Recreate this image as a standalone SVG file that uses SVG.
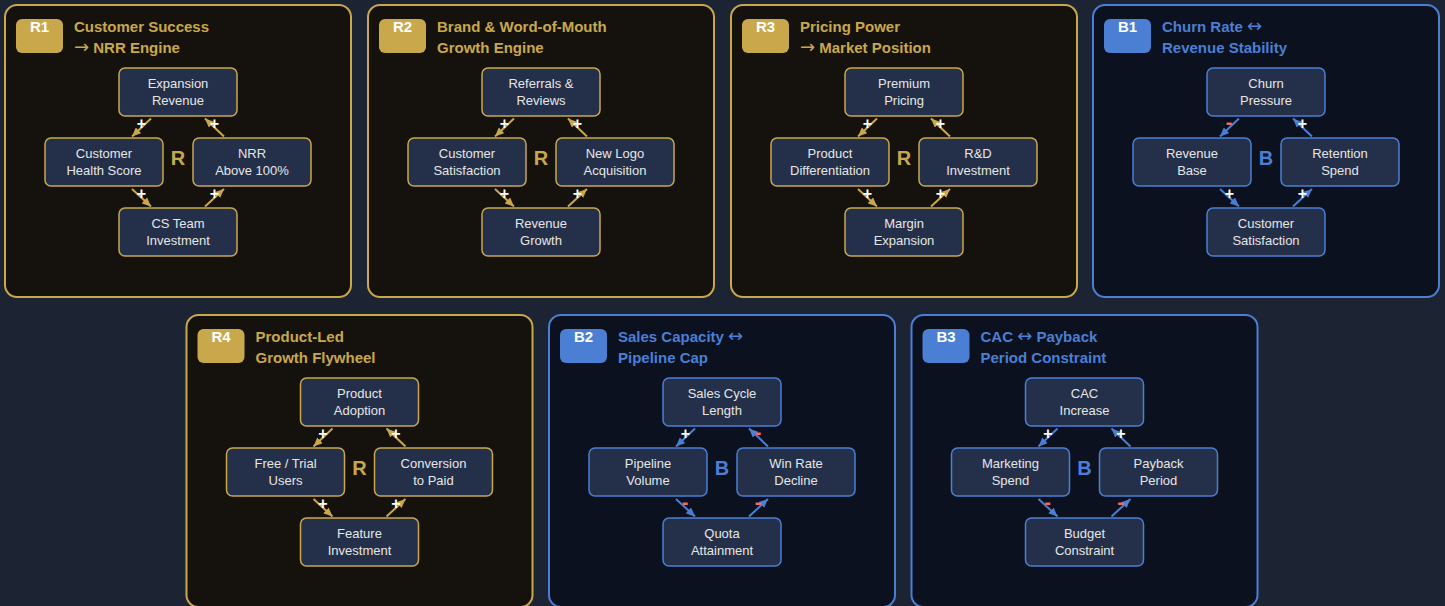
<svg xmlns="http://www.w3.org/2000/svg" width="1445" height="606" viewBox="0 0 1445 606">
<style>
text{font-family:"Liberation Sans",Arial,sans-serif}
.ar{font-family:"DejaVu Sans",sans-serif;font-weight:normal;font-size:18px}
.pr{fill:#15120d;stroke:#c9a84c;stroke-width:2}
.pb{fill:#0c1120;stroke:#4a7fd4;stroke-width:2}
.bgr{fill:#c9a84c}
.bgb{fill:#4a7fd4}
.bt{fill:#ffffff;font-size:15px;font-weight:bold;text-anchor:middle}
.tr{fill:#c9a84c;font-size:15px;font-weight:bold}
.tb{fill:#4a7fd4;font-size:15px;font-weight:bold}
.nr{fill:#243049;stroke:#c9a84c;stroke-width:1.5}
.nb{fill:#243049;stroke:#4a7fd4;stroke-width:1.5}
.nt{fill:#e6e6e6;font-size:13px;text-anchor:middle}
.lr{fill:#c9a84c;font-size:20px;font-weight:bold;text-anchor:middle}
.lb{fill:#4a7fd4;font-size:20px;font-weight:bold;text-anchor:middle}
.cr{stroke:#c9a84c;stroke-width:2;fill:none;marker-end:url(#ag)}
.cb{stroke:#4a7fd4;stroke-width:2;fill:none;marker-end:url(#ab)}
.sp{fill:#ffffff;font-size:16px;font-weight:bold;text-anchor:middle}
.sm{fill:#f06a6a;font-size:20px;font-weight:bold;text-anchor:middle}
</style>
<defs>
<marker id="ag" markerUnits="userSpaceOnUse" markerWidth="9" markerHeight="8" refX="9" refY="4" orient="auto"><path d="M0,0 L9,4 L0,8 z" fill="#c9a84c"/></marker>
<marker id="ab" markerUnits="userSpaceOnUse" markerWidth="9" markerHeight="8" refX="9" refY="4" orient="auto"><path d="M0,0 L9,4 L0,8 z" fill="#4a7fd4"/></marker>
</defs>
<rect x="0" y="0" width="1445" height="606" fill="#1c2333"/>

<!-- R1 -->
<g id="panel-r1" transform="translate(5,5)">
<rect class="pr" x="0" y="0" width="346" height="292" rx="12"/>
<rect class="bgr" x="11" y="14" width="47" height="34" rx="6"/>
<text class="bt" x="34.5" y="27">R1</text>
<text class="tr" x="69" y="27">Customer Success</text>
<text class="tr" x="69" y="48"><tspan class="ar">→</tspan> NRR Engine</text>
<text class="lr" x="173" y="160">R</text>
</g>
<g id="r1-expansion-revenue" transform="translate(119,68)"><rect class="nr" width="118" height="48" rx="6"/><text class="nt" x="59" y="20">Expansion</text><text class="nt" x="59" y="37">Revenue</text></g>
<g id="r1-customer-health" transform="translate(45,138)"><rect class="nr" width="118" height="48" rx="6"/><text class="nt" x="59" y="20">Customer</text><text class="nt" x="59" y="37">Health Score</text></g>
<g id="r1-nrr" transform="translate(193,138)"><rect class="nr" width="118" height="48" rx="6"/><text class="nt" x="59" y="20">NRR</text><text class="nt" x="59" y="37">Above 100%</text></g>
<g id="r1-cs-team" transform="translate(119,208)"><rect class="nr" width="118" height="48" rx="6"/><text class="nt" x="59" y="20">CS Team</text><text class="nt" x="59" y="37">Investment</text></g>

<!-- R2 -->
<g id="panel-r2" transform="translate(368,5)">
<rect class="pr" x="0" y="0" width="346" height="292" rx="12"/>
<rect class="bgr" x="11" y="14" width="47" height="34" rx="6"/>
<text class="bt" x="34.5" y="27">R2</text>
<text class="tr" x="69" y="27">Brand &amp; Word-of-Mouth</text>
<text class="tr" x="69" y="48">Growth Engine</text>
<text class="lr" x="173" y="160">R</text>
</g>
<g id="r2-referrals" transform="translate(482,68)"><rect class="nr" width="118" height="48" rx="6"/><text class="nt" x="59" y="20">Referrals &amp;</text><text class="nt" x="59" y="37">Reviews</text></g>
<g id="r2-customer-satisfaction" transform="translate(408,138)"><rect class="nr" width="118" height="48" rx="6"/><text class="nt" x="59" y="20">Customer</text><text class="nt" x="59" y="37">Satisfaction</text></g>
<g id="r2-new-logo" transform="translate(556,138)"><rect class="nr" width="118" height="48" rx="6"/><text class="nt" x="59" y="20">New Logo</text><text class="nt" x="59" y="37">Acquisition</text></g>
<g id="r2-revenue-growth" transform="translate(482,208)"><rect class="nr" width="118" height="48" rx="6"/><text class="nt" x="59" y="20">Revenue</text><text class="nt" x="59" y="37">Growth</text></g>

<!-- R3 -->
<g id="panel-r3" transform="translate(731,5)">
<rect class="pr" x="0" y="0" width="346" height="292" rx="12"/>
<rect class="bgr" x="11" y="14" width="47" height="34" rx="6"/>
<text class="bt" x="34.5" y="27">R3</text>
<text class="tr" x="69" y="27">Pricing Power</text>
<text class="tr" x="69" y="48"><tspan class="ar">→</tspan> Market Position</text>
<text class="lr" x="173" y="160">R</text>
</g>
<g id="r3-premium-pricing" transform="translate(845,68)"><rect class="nr" width="118" height="48" rx="6"/><text class="nt" x="59" y="20">Premium</text><text class="nt" x="59" y="37">Pricing</text></g>
<g id="r3-product-diff" transform="translate(771,138)"><rect class="nr" width="118" height="48" rx="6"/><text class="nt" x="59" y="20">Product</text><text class="nt" x="59" y="37">Differentiation</text></g>
<g id="r3-rd" transform="translate(919,138)"><rect class="nr" width="118" height="48" rx="6"/><text class="nt" x="59" y="20">R&amp;D</text><text class="nt" x="59" y="37">Investment</text></g>
<g id="r3-margin" transform="translate(845,208)"><rect class="nr" width="118" height="48" rx="6"/><text class="nt" x="59" y="20">Margin</text><text class="nt" x="59" y="37">Expansion</text></g>

<!-- B1 -->
<g id="panel-b1" transform="translate(1093,5)">
<rect class="pb" x="0" y="0" width="346" height="292" rx="12"/>
<rect class="bgb" x="11" y="14" width="47" height="34" rx="6"/>
<text class="bt" x="34.5" y="27">B1</text>
<text class="tb" x="69" y="27">Churn Rate <tspan class="ar">↔</tspan></text>
<text class="tb" x="69" y="48">Revenue Stability</text>
<text class="lb" x="173" y="160">B</text>
</g>
<g id="b1-churn" transform="translate(1207,68)"><rect class="nb" width="118" height="48" rx="6"/><text class="nt" x="59" y="20">Churn</text><text class="nt" x="59" y="37">Pressure</text></g>
<g id="b1-revenue-base" transform="translate(1133,138)"><rect class="nb" width="118" height="48" rx="6"/><text class="nt" x="59" y="20">Revenue</text><text class="nt" x="59" y="37">Base</text></g>
<g id="b1-retention" transform="translate(1281,138)"><rect class="nb" width="118" height="48" rx="6"/><text class="nt" x="59" y="20">Retention</text><text class="nt" x="59" y="37">Spend</text></g>
<g id="b1-customer-satisfaction" transform="translate(1207,208)"><rect class="nb" width="118" height="48" rx="6"/><text class="nt" x="59" y="20">Customer</text><text class="nt" x="59" y="37">Satisfaction</text></g>

<!-- R4 -->
<g id="panel-r4" transform="translate(186.5,315)">
<rect class="pr" x="0" y="0" width="346" height="292" rx="12"/>
<rect class="bgr" x="11" y="14" width="47" height="34" rx="6"/>
<text class="bt" x="34.5" y="27">R4</text>
<text class="tr" x="69" y="27">Product-Led</text>
<text class="tr" x="69" y="48">Growth Flywheel</text>
<text class="lr" x="173" y="160">R</text>
</g>
<g id="r4-product-adoption" transform="translate(300.5,378)"><rect class="nr" width="118" height="48" rx="6"/><text class="nt" x="59" y="20">Product</text><text class="nt" x="59" y="37">Adoption</text></g>
<g id="r4-free-trial" transform="translate(226.5,448)"><rect class="nr" width="118" height="48" rx="6"/><text class="nt" x="59" y="20">Free / Trial</text><text class="nt" x="59" y="37">Users</text></g>
<g id="r4-conversion" transform="translate(374.5,448)"><rect class="nr" width="118" height="48" rx="6"/><text class="nt" x="59" y="20">Conversion</text><text class="nt" x="59" y="37">to Paid</text></g>
<g id="r4-feature" transform="translate(300.5,518)"><rect class="nr" width="118" height="48" rx="6"/><text class="nt" x="59" y="20">Feature</text><text class="nt" x="59" y="37">Investment</text></g>

<!-- B2 -->
<g id="panel-b2" transform="translate(549,315)">
<rect class="pb" x="0" y="0" width="346" height="292" rx="12"/>
<rect class="bgb" x="11" y="14" width="47" height="34" rx="6"/>
<text class="bt" x="34.5" y="27">B2</text>
<text class="tb" x="69" y="27">Sales Capacity <tspan class="ar">↔</tspan></text>
<text class="tb" x="69" y="48">Pipeline Cap</text>
<text class="lb" x="173" y="160">B</text>
</g>
<g id="b2-sales-cycle" transform="translate(663,378)"><rect class="nb" width="118" height="48" rx="6"/><text class="nt" x="59" y="20">Sales Cycle</text><text class="nt" x="59" y="37">Length</text></g>
<g id="b2-pipeline" transform="translate(589,448)"><rect class="nb" width="118" height="48" rx="6"/><text class="nt" x="59" y="20">Pipeline</text><text class="nt" x="59" y="37">Volume</text></g>
<g id="b2-win-rate" transform="translate(737,448)"><rect class="nb" width="118" height="48" rx="6"/><text class="nt" x="59" y="20">Win Rate</text><text class="nt" x="59" y="37">Decline</text></g>
<g id="b2-quota" transform="translate(663,518)"><rect class="nb" width="118" height="48" rx="6"/><text class="nt" x="59" y="20">Quota</text><text class="nt" x="59" y="37">Attainment</text></g>

<!-- B3 -->
<g id="panel-b3" transform="translate(911.5,315)">
<rect class="pb" x="0" y="0" width="346" height="292" rx="12"/>
<rect class="bgb" x="11" y="14" width="47" height="34" rx="6"/>
<text class="bt" x="34.5" y="27">B3</text>
<text class="tb" x="69" y="27">CAC <tspan class="ar">↔</tspan> Payback</text>
<text class="tb" x="69" y="48">Period Constraint</text>
<text class="lb" x="173" y="160">B</text>
</g>
<g id="b3-cac" transform="translate(1025.5,378)"><rect class="nb" width="118" height="48" rx="6"/><text class="nt" x="59" y="20">CAC</text><text class="nt" x="59" y="37">Increase</text></g>
<g id="b3-marketing" transform="translate(951.5,448)"><rect class="nb" width="118" height="48" rx="6"/><text class="nt" x="59" y="20">Marketing</text><text class="nt" x="59" y="37">Spend</text></g>
<g id="b3-payback" transform="translate(1099.5,448)"><rect class="nb" width="118" height="48" rx="6"/><text class="nt" x="59" y="20">Payback</text><text class="nt" x="59" y="37">Period</text></g>
<g id="b3-budget" transform="translate(1025.5,518)"><rect class="nb" width="118" height="48" rx="6"/><text class="nt" x="59" y="20">Budget</text><text class="nt" x="59" y="37">Constraint</text></g>

<!-- connectors -->
<g id="connectors">
<g transform="translate(5,5)">
<line class="cr" x1="146" y1="113.5" x2="127" y2="131.5"/><line class="cr" x1="127" y1="184" x2="146" y2="201.5"/><line class="cr" x1="200" y1="201.5" x2="219" y2="184"/><line class="cr" x1="219" y1="131.5" x2="200" y2="113.5"/>
<text class="sp" x="136.5" y="124">+</text><text class="sp" x="136.5" y="193.5">+</text><text class="sp" x="209.5" y="193.5">+</text><text class="sp" x="209.5" y="124">+</text>
</g>
<g transform="translate(368,5)">
<line class="cr" x1="146" y1="113.5" x2="127" y2="131.5"/><line class="cr" x1="127" y1="184" x2="146" y2="201.5"/><line class="cr" x1="200" y1="201.5" x2="219" y2="184"/><line class="cr" x1="219" y1="131.5" x2="200" y2="113.5"/>
<text class="sp" x="136.5" y="124">+</text><text class="sp" x="136.5" y="193.5">+</text><text class="sp" x="209.5" y="193.5">+</text><text class="sp" x="209.5" y="124">+</text>
</g>
<g transform="translate(731,5)">
<line class="cr" x1="146" y1="113.5" x2="127" y2="131.5"/><line class="cr" x1="127" y1="184" x2="146" y2="201.5"/><line class="cr" x1="200" y1="201.5" x2="219" y2="184"/><line class="cr" x1="219" y1="131.5" x2="200" y2="113.5"/>
<text class="sp" x="136.5" y="124">+</text><text class="sp" x="136.5" y="193.5">+</text><text class="sp" x="209.5" y="193.5">+</text><text class="sp" x="209.5" y="124">+</text>
</g>
<g transform="translate(1093,5)">
<line class="cb" x1="146" y1="113.5" x2="127" y2="131.5"/><line class="cb" x1="127" y1="184" x2="146" y2="201.5"/><line class="cb" x1="200" y1="201.5" x2="219" y2="184"/><line class="cb" x1="219" y1="131.5" x2="200" y2="113.5"/>
<text class="sm" x="136" y="124">-</text><text class="sp" x="136.5" y="193.5">+</text><text class="sp" x="209.5" y="193.5">+</text><text class="sp" x="209.5" y="124">+</text>
</g>
<g transform="translate(186.5,315)">
<line class="cr" x1="146" y1="113.5" x2="127" y2="131.5"/><line class="cr" x1="127" y1="184" x2="146" y2="201.5"/><line class="cr" x1="200" y1="201.5" x2="219" y2="184"/><line class="cr" x1="219" y1="131.5" x2="200" y2="113.5"/>
<text class="sp" x="136.5" y="124">+</text><text class="sp" x="136.5" y="193.5">+</text><text class="sp" x="209.5" y="193.5">+</text><text class="sp" x="209.5" y="124">+</text>
</g>
<g transform="translate(549,315)">
<line class="cb" x1="146" y1="113.5" x2="127" y2="131.5"/><line class="cb" x1="127" y1="184" x2="146" y2="201.5"/><line class="cb" x1="200" y1="201.5" x2="219" y2="184"/><line class="cb" x1="219" y1="131.5" x2="200" y2="113.5"/>
<text class="sp" x="136.5" y="124">+</text><text class="sm" x="136" y="193.5">-</text><text class="sm" x="209" y="193.5">-</text><text class="sm" x="209" y="124">-</text>
</g>
<g transform="translate(911.5,315)">
<line class="cb" x1="146" y1="113.5" x2="127" y2="131.5"/><line class="cb" x1="127" y1="184" x2="146" y2="201.5"/><line class="cb" x1="200" y1="201.5" x2="219" y2="184"/><line class="cb" x1="219" y1="131.5" x2="200" y2="113.5"/>
<text class="sp" x="136.5" y="124">+</text><text class="sm" x="136" y="193.5">-</text><text class="sm" x="209" y="193.5">-</text><text class="sp" x="209.5" y="124">+</text>
</g>
</g>
</svg>
